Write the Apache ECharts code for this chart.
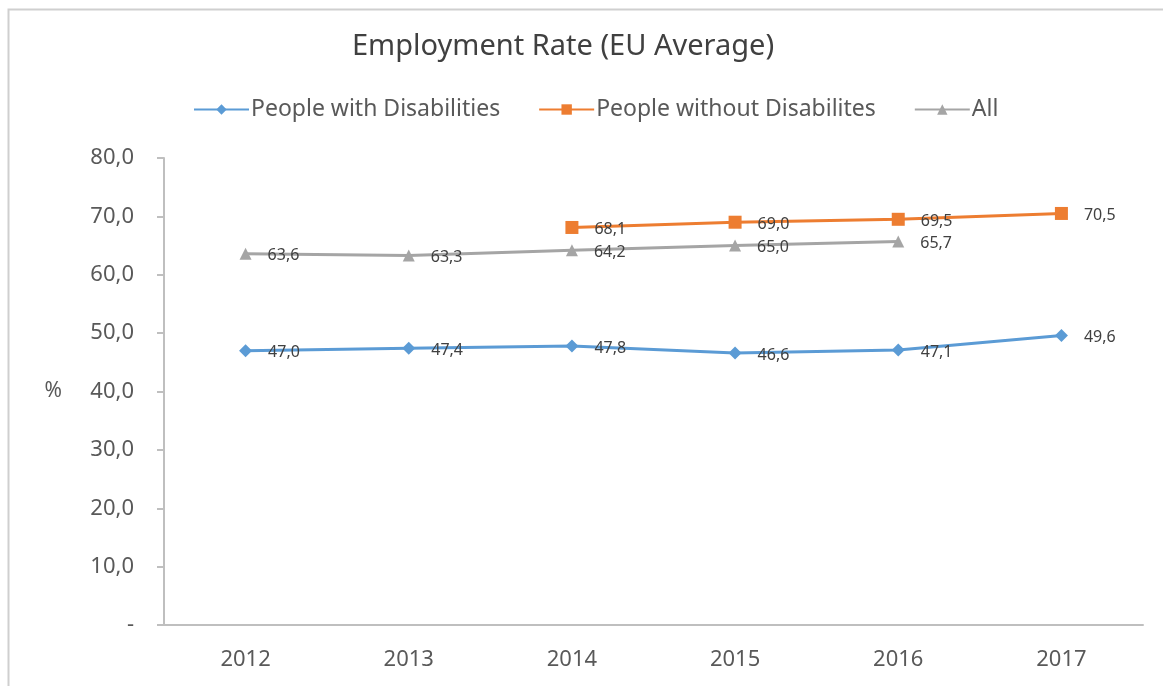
<!DOCTYPE html>
<html>
<head>
<meta charset="utf-8">
<script src="https://cdn.jsdelivr.net/npm/echarts@6/dist/echarts.min.js"></script>
<style>
    html, body {margin: 0; padding: 0; background: #fff;}
    #chart {width: 1163px; height: 686px;}
</style>
</head>
<body>
<div id="chart"></div>
<script>
var years = ['2012', '2013', '2014', '2015', '2016', '2017'];
var withDisabilities = [47.0, 47.4, 47.8, 46.6, 47.1, 49.6];
var withoutDisabilities = [null, null, 68.1, 69.0, 69.5, 70.5];
var allPeople = [63.6, 63.3, 64.2, 65.0, 65.7, null];

var fontName = 'Noto Sans';

function comma(v) {
    return v.toFixed(1).replace('.', ',');
}

var labelStyle = {
    show: true,
    position: 'right',
    distance: 16,
    offset: [0, 2],
    fontSize: 16,
    fontFamily: fontName,
    color: '#404040',
    formatter: function (p) {
        return comma(p.value);
    }
};

var option = {
    backgroundColor: '#fff',
    animation: false,
    graphic: [{
        type: 'rect',
        shape: {x: 8.5, y: 9.5, width: 1300, height: 800},
        style: {fill: 'none', stroke: '#cfcfcf', lineWidth: 2}
    }],
    title: {
        text: 'Employment Rate (EU Average)',
        left: 347,
        top: 27,
        textStyle: {fontSize: 29, fontWeight: 'normal', color: '#404040', fontFamily: fontName}
    },
    legend: {
        top: 93,
        left: 188,
        itemWidth: 55,
        itemHeight: 13,
        itemGap: 38,
        textStyle: {fontSize: 23, color: '#595959', fontFamily: fontName, padding: [0, 0, 0, -3]},
        data: ['People with Disabilities', 'People without Disabilites', 'All']
    },
    grid: {left: 164, right: 20, top: 158, bottom: 61},
    xAxis: {
        type: 'category',
        data: years,
        boundaryGap: true,
        axisLine: {lineStyle: {color: '#bfbfbf', width: 2}},
        axisTick: {show: false},
        axisLabel: {fontSize: 22, color: '#595959', fontFamily: fontName, margin: 24}
    },
    yAxis: {
        type: 'value',
        min: 0,
        max: 80,
        interval: 10,
        name: '%',
        nameLocation: 'middle',
        nameRotate: 0,
        nameGap: 102,
        nameTextStyle: {fontSize: 21, color: '#595959', fontFamily: fontName},
        splitLine: {show: false},
        axisLine: {show: true, lineStyle: {color: '#bfbfbf', width: 2}},
        axisTick: {show: true, length: 7, lineStyle: {color: '#bfbfbf', width: 2}},
        axisLabel: {
            fontSize: 22,
            color: '#595959',
            fontFamily: fontName,
            margin: 30,
            formatter: function (v) {
                return v === 0 ? '-' : comma(v);
            }
        }
    },
    series: [
        {
            name: 'People with Disabilities',
            type: 'line',
            data: withDisabilities,
            symbol: 'diamond',
            symbolSize: 13,
            color: '#5b9bd5',
            lineStyle: {width: 3},
            label: labelStyle
        },
        {
            name: 'People without Disabilites',
            type: 'line',
            data: withoutDisabilities,
            symbol: 'rect',
            symbolSize: 13,
            color: '#ed7d31',
            lineStyle: {width: 3},
            label: labelStyle
        },
        {
            name: 'All',
            type: 'line',
            data: allPeople,
            symbol: 'triangle',
            symbolSize: 12,
            color: '#a5a5a5',
            lineStyle: {width: 3},
            label: labelStyle
        }
    ]
};

var chart = echarts.init(document.getElementById('chart'));
chart.setOption(option);
</script>
</body>
</html>
